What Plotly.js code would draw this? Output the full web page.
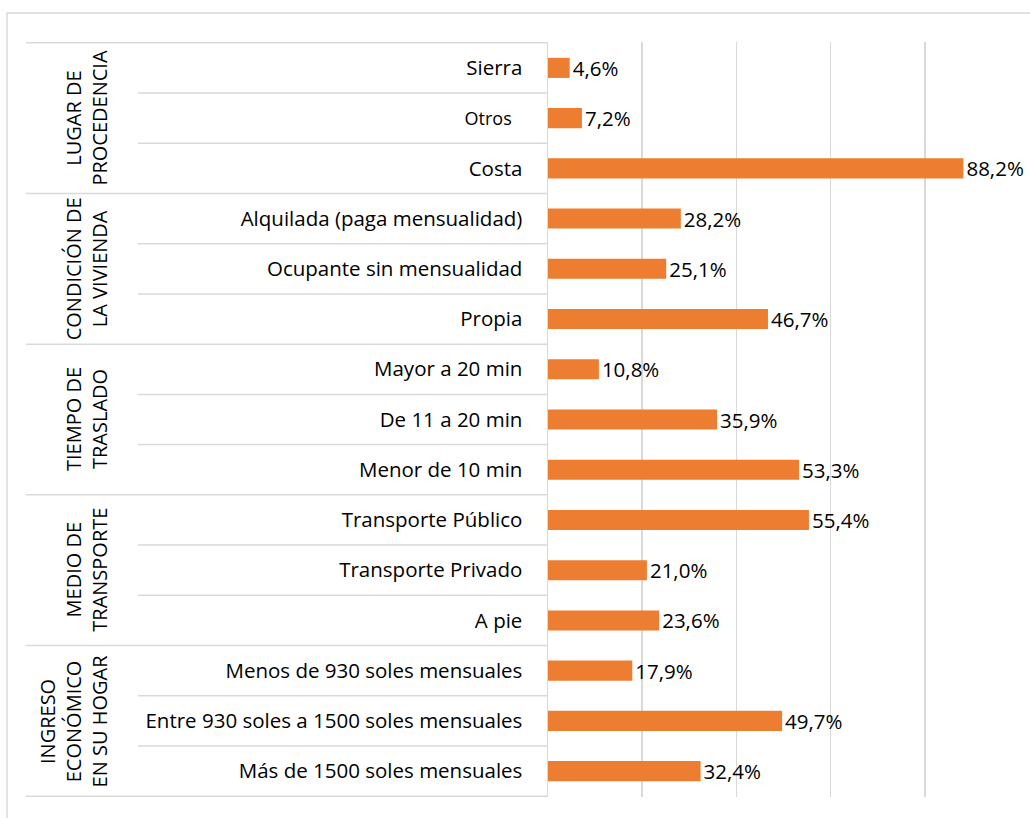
<!DOCTYPE html>
<html>
<head>
<meta charset="utf-8">
<script src="https://cdn.plot.ly/plotly-3.0.1.min.js"></script>
<style>html,body{margin:0;padding:0;background:#fff;}#chart{width:1030px;height:818px;}</style>
</head>
<body>
<div id="chart"></div>
<script>
// ---- data ----
const groups = ["LUGAR DE<br>PROCEDENCIA", "CONDICIÓN DE<br>LA VIVIENDA", "TIEMPO DE<br>TRASLADO", "MEDIO DE<br>TRANSPORTE", "INGRESO<br>ECONÓMICO<br>EN SU HOGAR"];
const groupSizes = [3, 3, 3, 3, 3];
const categories = [
  "Sierra", "Otros", "Costa",
  "Alquilada (paga mensualidad)", "Ocupante sin mensualidad", "Propia",
  "Mayor a 20 min", "De 11 a 20 min", "Menor de 10 min",
  "Transporte Público", "Transporte Privado", "A pie",
  "Menos de 930 soles mensuales", "Entre 930 soles a 1500 soles mensuales", "Más de 1500 soles mensuales"
];
const values = [4.6, 7.2, 88.2, 28.2, 25.1, 46.7, 10.8, 35.9, 53.3, 55.4, 21.0, 23.6, 17.9, 49.7, 32.4];

// ---- layout helpers ----
const W = 1030, H = 818;
const L = 548, R = 1019, T = 42, B = 797;
const px2p = x => (x - L) / (R - L);
const py2p = y => (B - y) / (B - T);
const grey = '#d9d9d9';
const font = '"Open Sans", "Noto Sans", sans-serif';

const ticktext = categories.map(c => c === 'Otros'
  ? '<span style="font-size:18px">Otros</span>\u00a0\u00a0'
  : c);

const shapes = [];
// outer frame
shapes.push({type: 'rect', xref: 'paper', yref: 'paper',
  x0: px2p(7), x1: px2p(1045), y0: py2p(830), y1: py2p(13),
  line: {color: grey, width: 1.5}, fillcolor: 'rgba(0,0,0,0)', layer: 'below'});
// separators
let idx = 0;
const bounds = [-0.5];
groupSizes.forEach(s => { idx += s; bounds.push(idx - 0.5); });
bounds.forEach(b => {
  shapes.push({type: 'line', xref: 'paper', yref: 'y', x0: px2p(26), x1: 0, y0: b, y1: b,
    line: {color: grey, width: 1.5}});
});
idx = 0;
groupSizes.forEach(s => {
  for (let k = 1; k < s; k++) {
    const b = idx + k - 0.5;
    shapes.push({type: 'line', xref: 'paper', yref: 'y', x0: px2p(138), x1: 0, y0: b, y1: b,
      line: {color: grey, width: 1.5}});
  }
  idx += s;
});

const annotations = [];
idx = 0;
groups.forEach((g, i) => {
  const c = idx + (groupSizes[i] - 1) / 2;
  annotations.push({xref: 'paper', yref: 'y', x: px2p(115), y: c, text: g, showarrow: false,
    textangle: -90, xanchor: 'right', yanchor: 'middle', align: 'center',
    font: {family: font, size: 20, color: '#000'}});
  idx += groupSizes[i];
});

const trace = {
  type: 'bar', orientation: 'h',
  x: values, y: categories,
  marker: {color: '#ED7D31'},
  texttemplate: '%{x:.1f}%', textposition: 'outside', cliponaxis: false,
  constraintext: 'none',
  textfont: {family: font, size: 20.5, color: '#000'},
  hoverinfo: 'skip'
};

const layout = {
  width: W, height: H,
  margin: {l: L, r: W - R, t: T, b: H - B, pad: 0},
  paper_bgcolor: '#fff', plot_bgcolor: '#fff',
  separators: ',.',
  showlegend: false,
  bargap: 0.6,
  xaxis: {range: [0, 100], dtick: 20, tick0: 0, showticklabels: false, showgrid: true,
    gridcolor: grey, gridwidth: 1.5, zeroline: false, showline: false, fixedrange: true},
  yaxis: {type: 'category', autorange: 'reversed', tickvals: categories, ticktext: ticktext,
    showline: true, linecolor: grey, linewidth: 1.5, showgrid: false, ticks: '',
    ticklabelstandoff: 20, tickfont: {family: font, size: 20.5, color: '#000'}, fixedrange: true},
  shapes: shapes,
  annotations: annotations,
  font: {family: font, color: '#000'}
};

Plotly.newPlot('chart', [trace], layout, {displayModeBar: false, staticPlot: true});
</script>
</body>
</html>
